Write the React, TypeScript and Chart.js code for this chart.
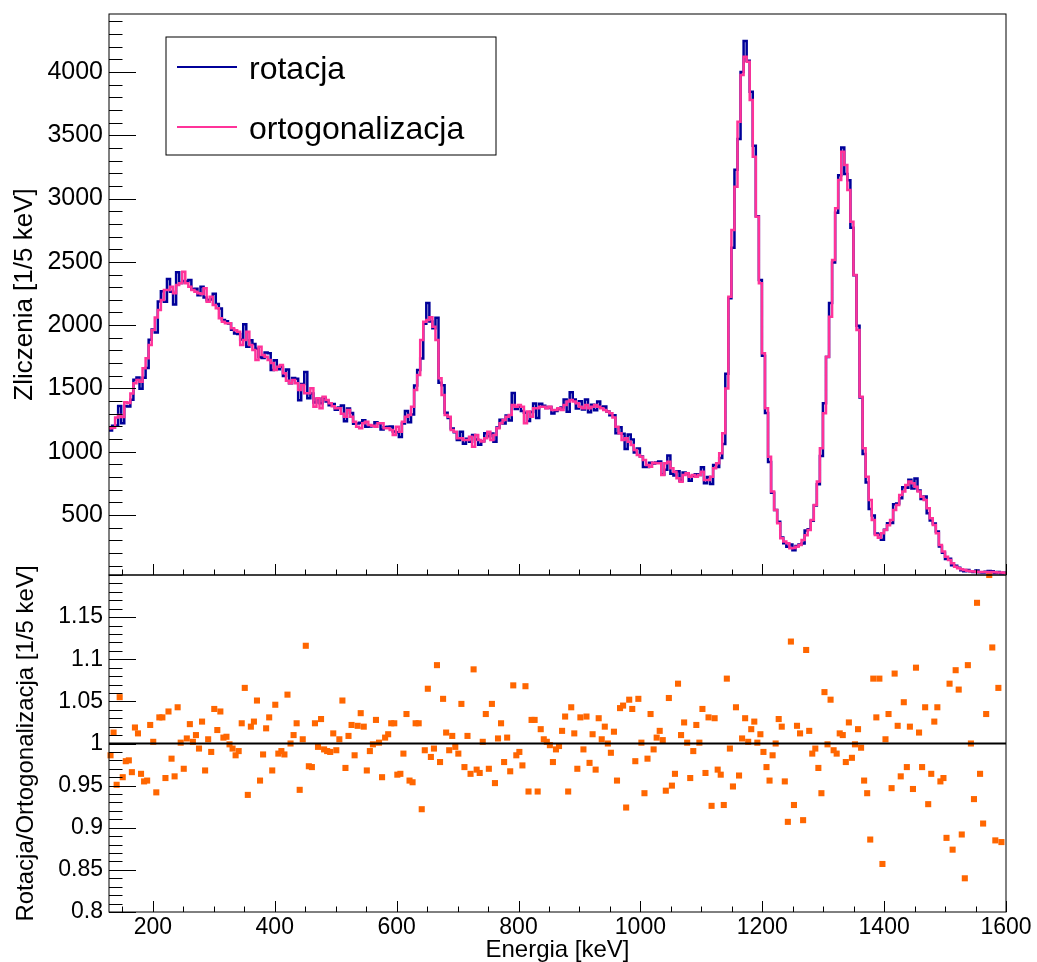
import React, { useEffect, useRef } from 'react';
import { Chart, registerables } from 'chart.js';

Chart.register(...registerables);

// ---------- data ----------
const X_MIN = 128;
const X_MAX = 1600;

const SERIES_NAMES = ['rotacja', 'ortogonalizacja'];

// counts per 5 keV bin, "ortogonalizacja"
const ORTOGONALIZACJA: number[] = [
  1185, 1190, 1270, 1290, 1275, 1390, 1385, 1460, 1540, 1567,
  1553, 1659, 1738, 1843, 1962, 2060, 2120, 2199, 2278, 2278,
  2304, 2251, 2317, 2330, 2422, 2330, 2304, 2278, 2264, 2251,
  2245, 2291, 2185, 2225, 2159, 2133, 2054, 2027, 2014, 2014,
  1975, 1960, 1948, 1843, 1883, 1948, 1843, 1804, 1725, 1830,
  1764, 1751, 1725, 1700, 1646, 1672, 1685, 1619, 1560, 1540,
  1567, 1540, 1488, 1527, 1461, 1461, 1501, 1356, 1422, 1343,
  1435, 1409, 1382, 1360, 1343, 1343, 1300, 1277, 1330, 1277,
  1237, 1198, 1185, 1224, 1237, 1211, 1205, 1198, 1224, 1224,
  1185, 1185, 1172, 1132, 1198, 1158, 1237, 1277, 1290, 1356,
  1488, 1606, 1883, 2027, 2041, 2062, 1988, 1883, 1580, 1448,
  1290, 1277, 1172, 1158, 1106, 1106, 1093, 1093, 1119, 1040,
  1132, 1093, 1080, 1106, 1158, 1093, 1132, 1185, 1224, 1251,
  1277, 1290, 1369, 1356, 1369, 1356, 1224, 1317, 1277, 1343,
  1343, 1356, 1356, 1343, 1356, 1330, 1330, 1343, 1330, 1369,
  1396, 1409, 1396, 1382, 1356, 1343, 1369, 1343, 1356, 1369,
  1356, 1343, 1330, 1317, 1303, 1270, 1198, 1145, 1092, 1106,
  1079, 1053, 1014, 974, 961, 935, 895, 882, 913, 908,
  908, 816, 908, 921, 869, 842, 790, 763, 816, 829,
  803, 816, 803, 816, 842, 777, 777, 803, 869, 908,
  987, 1145, 1500, 2225, 2752, 3094, 3607, 3976, 4121, 4081,
  3779, 3331, 2857, 2330, 1777, 1343, 961, 685, 540, 434,
  316, 290, 276, 237, 240, 250, 263, 303, 340, 382,
  461, 579, 764, 1027, 1303, 1751, 2067, 2515, 2923, 3147,
  3370, 3265, 3068, 2817, 2396, 1962, 1435, 1027, 803, 619,
  461, 342, 320, 355, 382, 420, 461, 540, 579, 658,
  685, 737, 764, 750, 724, 685, 645, 619, 553, 474,
  421, 355, 263, 211, 171, 145, 118, 92, 79, 71,
  66, 60, 55, 53, 52, 50, 50, 49, 48, 50,
  48, 46, 45, 44,
];

// counts per 5 keV bin, "rotacja"
const ROTACJA: number[] = [
  1168, 1205, 1208, 1361, 1224, 1361, 1357, 1410, 1569, 1586,
  1497, 1584, 1662, 1884, 1966, 1941, 2186, 2267, 2185, 2365,
  2263, 2163, 2417, 2332, 2349, 2344, 2357, 2283, 2287, 2237,
  2303, 2218, 2196, 2203, 2248, 2167, 2132, 2041, 2030, 2012,
  1963, 1933, 1930, 1887, 2007, 1829, 1880, 1851, 1813, 1749,
  1741, 1783, 1778, 1646, 1722, 1652, 1670, 1598, 1650, 1540,
  1583, 1577, 1406, 1535, 1630, 1422, 1459, 1389, 1416, 1382,
  1425, 1396, 1368, 1376, 1332, 1350, 1366, 1240, 1342, 1305,
  1220, 1223, 1228, 1248, 1197, 1200, 1204, 1232, 1225, 1175,
  1193, 1198, 1200, 1159, 1154, 1116, 1222, 1322, 1233, 1294,
  1524, 1645, 1736, 2011, 2174, 2029, 1976, 2058, 1545, 1525,
  1307, 1267, 1183, 1153, 1093, 1158, 1062, 1103, 1079, 1132,
  1097, 1055, 1082, 1145, 1123, 1144, 1079, 1192, 1253, 1223,
  1286, 1247, 1463, 1337, 1355, 1321, 1307, 1242, 1313, 1381,
  1266, 1379, 1363, 1346, 1353, 1301, 1321, 1339, 1350, 1413,
  1316, 1470, 1413, 1341, 1398, 1334, 1413, 1312, 1371, 1327,
  1397, 1350, 1357, 1317, 1289, 1288, 1145, 1193, 1141, 1022,
  1135, 1096, 993, 1026, 962, 880, 879, 913, 907, 914,
  922, 819, 857, 971, 826, 812, 846, 771, 836, 830,
  770, 809, 821, 817, 877, 750, 801, 744, 895, 880,
  950, 1061, 1616, 2212, 2612, 3227, 3470, 4000, 4245, 4089,
  3843, 3418, 2860, 2356, 1759, 1305, 919, 675, 540, 447,
  322, 277, 250, 266, 222, 255, 266, 275, 378, 388,
  455, 576, 742, 966, 1382, 1749, 2174, 2495, 2888, 3185,
  3404, 3193, 3145, 2769, 2394, 1995, 1428, 982, 756, 548,
  496, 353, 345, 304, 384, 435, 437, 585, 591, 632,
  719, 716, 779, 710, 789, 694, 627, 646, 513, 457,
  432, 370, 251, 202, 152, 155, 103, 100, 84, 63,
  55, 66, 55, 50, 61, 48, 45, 51, 58, 56,
  42, 49, 40, 44,
];

// rotacja / ortogonalizacja per bin (first 293 bins)
const RATIO: number[] = [
  0.986, 1.013, 0.951, 1.055, 0.960, 0.979, 0.980, 0.966, 1.019, 1.012,
  0.964, 0.955, 0.956, 1.022, 1.002, 0.942, 1.031, 1.031, 0.959, 1.038,
  0.982, 0.961, 1.043, 1.001, 0.970, 1.006, 1.023, 1.002, 1.010, 0.994,
  1.026, 0.968, 1.005, 0.990, 1.041, 1.016, 1.038, 1.007, 1.008, 0.999,
  0.994, 0.986, 0.991, 1.024, 1.066, 0.939, 1.020, 1.026, 1.051, 0.956,
  0.987, 1.018, 1.031, 0.968, 1.046, 0.988, 0.991, 0.987, 1.058, 1.000,
  1.010, 1.024, 0.945, 1.005, 1.116, 0.973, 0.972, 1.024, 0.996, 1.029,
  0.993, 0.991, 0.990, 1.012, 0.992, 1.005, 1.051, 0.971, 1.009, 1.022,
  0.986, 1.021, 1.036, 1.020, 0.968, 0.991, 0.999, 1.028, 1.001, 0.960,
  1.007, 1.011, 1.024, 1.024, 0.963, 0.964, 0.988, 1.035, 0.956, 0.954,
  1.024, 1.024, 0.922, 0.992, 1.065, 0.984, 0.994, 1.093, 0.978, 1.053,
  1.013, 0.992, 1.009, 0.996, 0.988, 1.047, 0.972, 1.009, 0.964, 1.088,
  0.969, 0.965, 1.002, 1.035, 0.970, 1.047, 0.953, 1.006, 1.024, 0.978,
  1.007, 0.967, 1.069, 0.986, 0.990, 0.974, 1.068, 0.943, 1.028, 1.028,
  0.943, 1.017, 1.005, 1.002, 0.998, 0.978, 0.993, 0.997, 1.015, 1.032,
  0.943, 1.043, 1.012, 0.970, 1.031, 0.993, 1.032, 0.977, 1.011, 0.969,
  1.030, 1.005, 1.020, 1.000, 0.989, 1.014, 0.956, 1.042, 1.045, 0.924,
  1.052, 1.041, 0.979, 1.053, 1.001, 0.941, 0.982, 1.035, 0.993, 1.007,
  1.015, 1.004, 0.944, 1.054, 0.950, 0.964, 1.071, 1.010, 1.025, 1.001,
  0.959, 0.991, 1.022, 1.001, 1.041, 0.965, 1.031, 0.926, 1.030, 0.969,
  0.963, 0.927, 1.077, 0.994, 0.949, 1.043, 0.962, 1.006, 1.030, 1.002,
  1.017, 1.026, 1.001, 1.011, 0.990, 0.972, 0.956, 0.986, 1.000, 1.029,
  1.020, 0.955, 0.907, 1.121, 0.927, 1.021, 1.012, 0.909, 1.111, 1.015,
  0.988, 0.994, 0.971, 0.941, 1.061, 0.999, 1.052, 0.992, 0.988, 1.012,
  1.010, 0.978, 1.025, 0.983, 0.999, 1.017, 0.995, 0.956, 0.941, 0.886,
  1.077, 1.031, 1.077, 0.857, 1.005, 1.035, 0.947, 1.083, 1.021, 0.961,
  1.049, 0.972, 1.020, 0.946, 1.090, 1.013, 0.972, 1.043, 0.928, 0.964,
  1.026, 1.043, 0.955, 0.959, 0.888, 1.071, 0.874, 1.087, 1.064, 0.892,
  0.840, 1.093, 1.000, 0.934, 1.167, 0.964, 0.905, 1.035, 1.200, 1.114,
  0.885, 1.066, 0.883,
];

const X_TICKS = [200, 400, 600, 800, 1000, 1200, 1400, 1600];
const Y_TOP_MIN = 26;
const Y_TOP_MAX = 4458;
const Y_TOP_TICKS = [500, 1000, 1500, 2000, 2500, 3000, 3500, 4000];
const Y_BOT_MIN = 0.8;
const Y_BOT_MAX = 1.2;
const Y_BOT_TICKS = [0.8, 0.85, 0.9, 0.95, 1, 1.05, 1.1, 1.15];
const Y_BOT_LABELS = ['0.8', '0.85', '0.9', '0.95', '1', '1.05', '1.1', '1.15'];
const REF_LINE = 1;

// ---------- style ----------
const W = 1037;
const H = 962;
const FONT = "'Liberation Sans', Arial, Helvetica, sans-serif";
const BLUE = '#000099';
const PINK = '#ff3399';
const ORANGE = '#ff6600';

Chart.defaults.font.family = FONT;
Chart.defaults.color = '#000';

const binW = (X_MAX - X_MIN) / ORTOGONALIZACJA.length;
const histPoints = (vals: number[]) => {
  const pts = vals.map((v, i) => ({ x: X_MIN + i * binW, y: v }));
  pts.push({ x: X_MAX, y: vals[vals.length - 1] });
  return pts;
};

type TickSpec = {
  xMajor: number[]; xMinorStep: number; yMajor: number[]; yMinorStep: number;
  yMinorStart: number; xLen: number; yLen: number;
};

const framePlugin = (spec: TickSpec) => ({
  id: 'rootFrame',
  afterDraw(chart: any) {
    const { ctx, chartArea: a, scales } = chart;
    const xs = scales.x;
    const ys = scales.y;
    ctx.save();
    ctx.strokeStyle = '#000';
    ctx.lineWidth = 1;
    ctx.beginPath();
    // y ticks (inward from left)
    const yMaj = new Set(spec.yMajor.map((v) => v.toFixed(4)));
    for (let v = spec.yMinorStart; v <= ys.max + 1e-9; v += spec.yMinorStep) {
      const vv = Math.round(v * 10000) / 10000;
      if (vv < ys.min) continue;
      const py = Math.round(ys.getPixelForValue(vv)) + 0.5;
      const len = yMaj.has(vv.toFixed(4)) ? spec.yLen : spec.yLen / 2;
      ctx.moveTo(a.left, py);
      ctx.lineTo(a.left + len, py);
    }
    // x ticks (inward from bottom)
    const xMaj = new Set(spec.xMajor.map((v) => v.toFixed(2)));
    const start = Math.ceil(xs.min / spec.xMinorStep) * spec.xMinorStep;
    for (let v = start; v <= xs.max + 1e-9; v += spec.xMinorStep) {
      const px = Math.round(xs.getPixelForValue(v)) + 0.5;
      const len = xMaj.has(v.toFixed(2)) ? spec.xLen : spec.xLen / 2;
      ctx.moveTo(px, a.bottom);
      ctx.lineTo(px, a.bottom - len);
    }
    ctx.stroke();
    ctx.lineWidth = 1;
    ctx.strokeRect(a.left, a.top, a.right - a.left, a.bottom - a.top);
    ctx.restore();
  },
});

const legendPlugin = {
  id: 'rootLegend',
  afterDraw(chart: any) {
    const { ctx } = chart;
    ctx.save();
    ctx.strokeStyle = '#000';
    ctx.lineWidth = 1;
    ctx.strokeRect(166, 37, 330, 118);
    const rows = [
      { name: SERIES_NAMES[0], color: BLUE, y: 67 },
      { name: SERIES_NAMES[1], color: PINK, y: 127 },
    ];
    ctx.font = `32px ${FONT}`;
    ctx.fillStyle = '#000';
    ctx.textBaseline = 'alphabetic';
    ctx.textAlign = 'left';
    for (const r of rows) {
      ctx.strokeStyle = r.color;
      ctx.lineWidth = 2;
      ctx.beginPath();
      ctx.moveTo(177, r.y);
      ctx.lineTo(237, r.y);
      ctx.stroke();
      ctx.fillText(r.name, 249, r.y + 12);
    }
    ctx.restore();
  },
};

const fixYAxis = (s: any) => {
  s.width = 100;
  s.paddingTop = 0;
  s.paddingBottom = 0;
};
const fixXAxis = (s: any) => {
  s.height = 50;
  s.paddingLeft = 0;
  s.paddingRight = 0;
};

export default function App() {
  const topRef = useRef<HTMLCanvasElement | null>(null);
  const botRef = useRef<HTMLCanvasElement | null>(null);

  useEffect(() => {
    if (!topRef.current || !botRef.current) return;

    const top = new Chart(topRef.current, {
      type: 'line',
      data: {
        datasets: [
          {
            label: SERIES_NAMES[1],
            data: histPoints(ORTOGONALIZACJA),
            borderColor: PINK,
            borderWidth: 2.5,
            pointRadius: 0,
            stepped: 'before',
            fill: false,
          },
          {
            label: SERIES_NAMES[0],
            data: histPoints(ROTACJA),
            borderColor: BLUE,
            borderWidth: 2.5,
            pointRadius: 0,
            stepped: 'before',
            fill: false,
          },
        ],
      },
      options: {
        responsive: false,
        animation: false,
        events: [],
        layout: { padding: { left: 9, right: 31, top: 14, bottom: 387 } },
        plugins: { legend: { display: false }, tooltip: { enabled: false } },
        scales: {
          x: { type: 'linear', display: false, min: X_MIN, max: X_MAX },
          y: {
            type: 'linear',
            min: Y_TOP_MIN,
            max: Y_TOP_MAX,
            afterBuildTicks: (s: any) => { s.ticks = Y_TOP_TICKS.map((v) => ({ value: v })); },
            afterFit: fixYAxis,
            grid: { display: false, drawTicks: false },
            border: { display: false },
            ticks: { font: { size: 25 }, color: '#000', padding: 6, callback: (v: any) => String(v) },
            title: {
              display: true,
              text: 'Zliczenia [1/5 keV]',
              font: { size: 26, lineHeight: 1 },
              color: '#000',
              padding: { top: 3, bottom: 0 },
            },
          },
        },
      },
      plugins: [
        framePlugin({ xMajor: X_TICKS, xMinorStep: 50, yMajor: Y_TOP_TICKS, yMinorStep: 100, yMinorStart: 100, xLen: 11, yLen: 27 }),
        legendPlugin,
      ],
    } as any);

    const bot = new Chart(botRef.current, {
      type: 'scatter',
      data: {
        datasets: [
          {
            type: 'line',
            label: 'ref',
            data: [{ x: X_MIN, y: REF_LINE }, { x: X_MAX, y: REF_LINE }],
            borderColor: '#000',
            borderWidth: 2,
            pointRadius: 0,
          },
          {
            label: 'Rotacja/Ortogonalizacja',
            data: RATIO.map((v, i) => ({ x: X_MIN + (i + 0.5) * binW, y: v })),
            pointStyle: 'rect',
            pointRadius: 4.3,
            pointBorderWidth: 0,
            backgroundColor: ORANGE,
            borderColor: ORANGE,
            clip: false,
          },
        ],
      },
      options: {
        responsive: false,
        animation: false,
        events: [],
        layout: { padding: { left: 9, right: 31, top: 575, bottom: 0 } },
        plugins: { legend: { display: false }, tooltip: { enabled: false } },
        scales: {
          x: {
            type: 'linear',
            min: X_MIN,
            max: X_MAX,
            afterBuildTicks: (s: any) => { s.ticks = X_TICKS.map((v) => ({ value: v })); },
            afterFit: fixXAxis,
            grid: { display: false, drawTicks: false },
            border: { display: false },
            ticks: { font: { size: 23 }, color: '#000', padding: 2, maxRotation: 0, autoSkip: false, callback: (v: any) => String(v) },
            title: {
              display: true,
              text: 'Energia [keV]',
              font: { size: 24, lineHeight: 1 },
              color: '#000',
              padding: { top: 0, bottom: 0 },
            },
          },
          y: {
            type: 'linear',
            min: Y_BOT_MIN,
            max: Y_BOT_MAX,
            afterBuildTicks: (s: any) => { s.ticks = Y_BOT_TICKS.map((v) => ({ value: v })); },
            afterFit: fixYAxis,
            grid: { display: false, drawTicks: false },
            border: { display: false },
            ticks: {
              font: { size: 23 },
              color: '#000',
              padding: 6,
              callback: (v: any) => {
                const k = Y_BOT_TICKS.findIndex((t) => Math.abs(t - v) < 1e-6);
                return k >= 0 ? Y_BOT_LABELS[k] : '';
              },
            },
            title: {
              display: true,
              text: 'Rotacja/Ortogonalizacja [1/5 keV]',
              font: { size: 24, lineHeight: 1 },
              color: '#000',
              padding: { top: 5, bottom: 0 },
            },
          },
        },
      },
      plugins: [
        framePlugin({ xMajor: X_TICKS, xMinorStep: 50, yMajor: Y_BOT_TICKS, yMinorStep: 0.01, yMinorStart: 0.8, xLen: 11, yLen: 27 }),
      ],
    } as any);

    return () => {
      top.destroy();
      bot.destroy();
    };
  }, []);

  const cstyle: React.CSSProperties = { position: 'absolute', left: 0, top: 0, width: W, height: H };
  return (
    <div style={{ position: 'absolute', left: 0, top: 0, width: W, height: H, background: '#fff' }}>
      <canvas ref={botRef} width={W} height={H} style={cstyle} />
      <canvas ref={topRef} width={W} height={H} style={cstyle} />
    </div>
  );
}
